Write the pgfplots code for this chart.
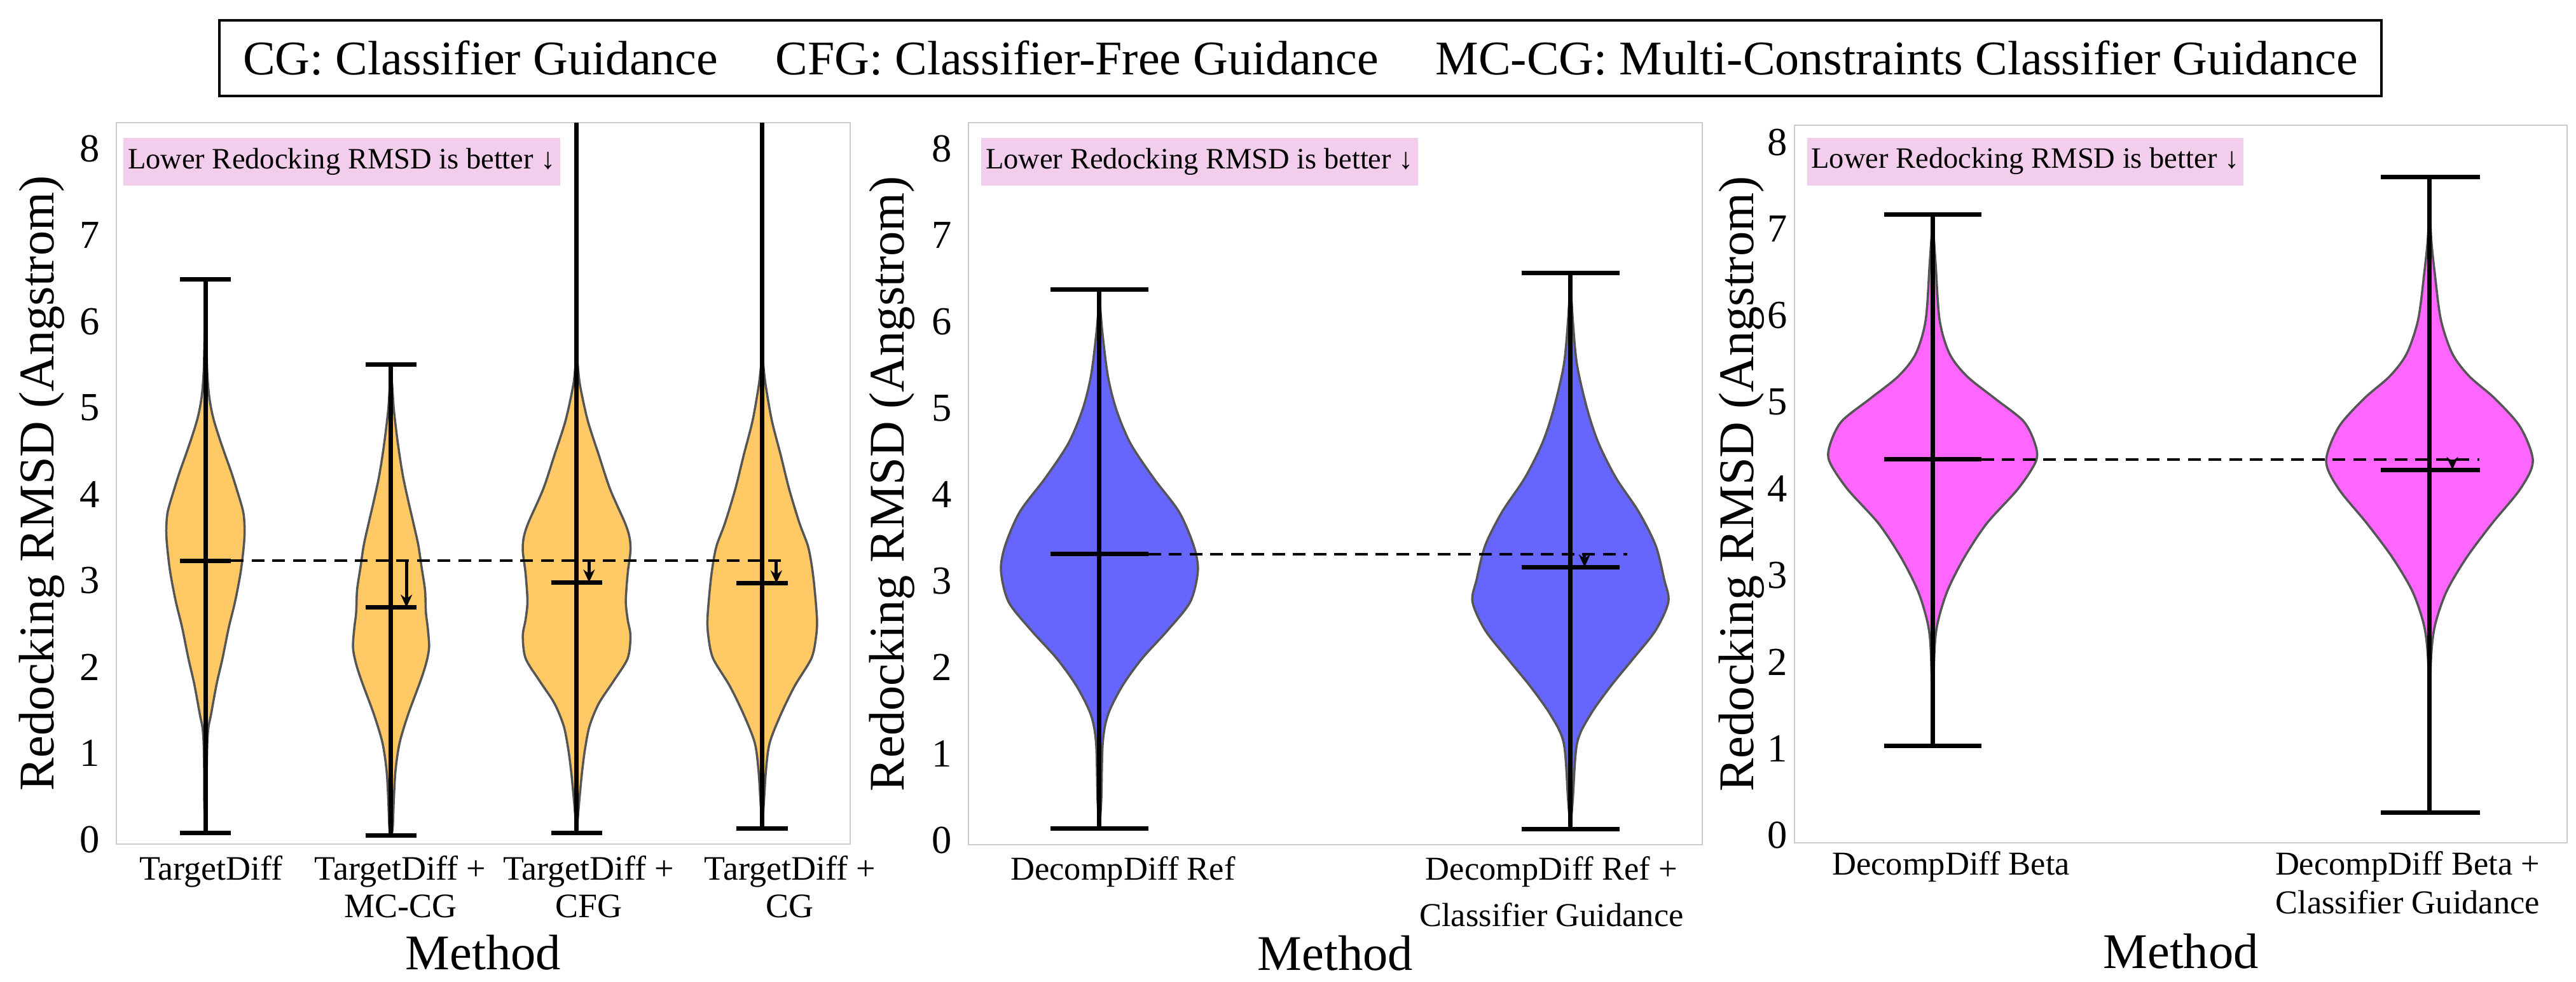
\documentclass[border=0pt]{standalone}
\usepackage{fontspec}
\setmainfont{Liberation Serif}
\usepackage{pgfplots}
\pgfplotsset{compat=1.18}
\usepackage{pgfplotstable}
\usepgfplotslibrary{fillbetween}
\usetikzlibrary{arrows.meta}

\definecolor{orF}{RGB}{255,201,102}
\definecolor{blF}{RGB}{102,102,255}
\definecolor{mgF}{RGB}{255,102,255}
\definecolor{pinkbox}{RGB}{242,205,236}
\definecolor{vline}{RGB}{85,85,85}

% violin half-widths (w, in x units) against RMSD (y)
\pgfplotstableread{
y w
0.08 0.0
0.4 0.006
0.8 0.007
1.12 0.01
1.3 0.016
1.45 0.03
1.8 0.06
2.1 0.092
2.45 0.125
2.76 0.16
3.1 0.19
3.41 0.207
3.6 0.211
3.8 0.203
4.06 0.168
4.25 0.14
4.45 0.107
4.65 0.075
4.85 0.046
5.0 0.03
5.17 0.018
5.4 0.01
5.7 0.006
6.1 0.003
6.45 0.0
}\vA
\pgfplotstableread{
y w
0.03 0.0
0.14 0.009
0.47 0.015
0.8 0.024
1.12 0.046
1.45 0.092
1.84 0.159
2.05 0.19
2.23 0.205
2.45 0.198
2.63 0.188
2.89 0.183
3.15 0.165
3.41 0.147
3.67 0.12
3.93 0.092
4.2 0.065
4.45 0.046
4.7 0.03
4.98 0.015
5.2 0.008
5.45 0.0
}\vB
\pgfplotstableread{
y w
0.08 0.0
0.47 0.015
0.8 0.03
1.06 0.046
1.32 0.07
1.58 0.12
1.84 0.2
2.1 0.275
2.36 0.29
2.55 0.275
2.76 0.265
3.08 0.275
3.34 0.29
3.5 0.285
3.67 0.26
4.06 0.18
4.45 0.12
4.85 0.06
5.24 0.02
5.45 0.008
5.65 0.0
}\vC
\pgfplotstableread{
y w
0.13 0.0
0.47 0.01
0.8 0.02
1.12 0.04
1.45 0.1
1.78 0.175
2.1 0.265
2.35 0.29
2.56 0.295
2.95 0.28
3.2 0.265
3.41 0.245
3.67 0.2
4.06 0.145
4.45 0.1
4.85 0.052
5.24 0.02
5.45 0.008
5.65 0.0
}\vD
\pgfplotstableread{
y w
0.14 0.0
0.47 0.004
1.12 0.007
1.45 0.018
1.78 0.048
2.1 0.09
2.43 0.145
2.76 0.193
3.12 0.209
3.41 0.2
3.8 0.169
4.19 0.115
4.59 0.066
4.98 0.036
5.37 0.018
5.89 0.006
6.3 0.0
}\vE
\pgfplotstableread{
y w
0.13 0.0
0.47 0.005
1.12 0.014
1.45 0.042
1.78 0.085
2.1 0.133
2.43 0.181
2.76 0.208
3.02 0.199
3.41 0.181
3.8 0.145
4.19 0.097
4.59 0.06
4.98 0.036
5.5 0.014
6.02 0.005
6.5 0.0
}\vF
\pgfplotstableread{
y w
1.03 0.0
2.03 0.003
2.42 0.009
2.81 0.029
3.2 0.063
3.6 0.109
4.0 0.172
4.32 0.208
4.52 0.206
4.78 0.183
5.04 0.126
5.3 0.069
5.56 0.034
5.95 0.014
6.6 0.006
7.1 0.0
}\vG
\pgfplotstableread{
y w
0.26 0.0
1.37 0.001
2.03 0.003
2.42 0.011
2.81 0.034
3.2 0.074
3.6 0.126
4.0 0.183
4.32 0.208
4.71 0.183
5.04 0.132
5.3 0.08
5.56 0.046
5.95 0.023
6.47 0.011
6.93 0.003
7.55 0.0
}\vH

\pgfplotsset{
 vp/.style={
   scale only axis, anchor=south west,
   axis line style={draw=black!20, line width=0.5pt},
   ytick={0,1,2,3,4,5,6,7,8},
   tick style={draw=none},
   /pgf/number format/assume math mode=true,
   yticklabel style={font=\fontsize{12.5}{14}\selectfont, inner sep=0pt, xshift=-5pt},
   xticklabel style={align=center, inner sep=0pt, yshift=-3.5pt},
   ylabel={Redocking RMSD (Angstrom)},
   xlabel={Method},
   label style={font=\fontsize{15.7}{18}\selectfont},
   xlabel style={at={(axis description cs:0.5,0)}, anchor=base, yshift=-39.4pt, inner sep=0pt},
   ylabel style={anchor=base, inner sep=0pt},
 },
 vfill/.style={draw=none, smooth},
 vout/.style={draw=vline, line width=0.7pt, smooth},
 whisk/.style={black, line width=1.4pt},
 dsh/.style={black, line width=0.8pt, dash pattern=on 4pt off 2.5pt},
 arr/.style={black, line width=1pt, -{Stealth[length=4pt,width=3.6pt]}},
}
\tikzset{
 note/.style={fill=pinkbox, anchor=north west, inner xsep=1.4pt, inner ysep=3.4pt,
   text height=6.2pt, text depth=2pt, font=\fontsize{9.3}{11}\selectfont},
}

\begin{document}
\begin{tikzpicture}

\node[draw=black, line width=0.8pt, minimum width=680pt, minimum height=23.8pt, inner sep=0pt]
  at (409pt,290.5pt) {\fontsize{15.2}{18}\selectfont CG: Classifier Guidance\hspace{18pt}CFG: Classifier-Free Guidance\hspace{18pt}MC-CG: Multi-Constraints Classifier Guidance};

% ---------------- Panel 1 ----------------
\begin{axis}[vp, at={(36.6pt,43.2pt)}, width=230.8pt, height=227pt,
  xmin=-0.48, xmax=3.474, ymin=-0.05, ymax=8.3,
  xtick={0.03,1.05,2.065,3.15},
  xticklabels={TargetDiff,{TargetDiff +\\MC-CG},{TargetDiff +\\CFG},{TargetDiff +\\CG}},
  xticklabel style={font=\fontsize{10.8}{11.8}\selectfont},
  ylabel style={at={(axis description cs:-0.085,0.5)}}]
\addplot[vfill, name path=a1] table[x expr=0+\thisrow{w}, y=y] {\vA};
\addplot[vfill, name path=b1] table[x expr=0-\thisrow{w}, y=y] {\vA};
\addplot[fill=orF, draw=none] fill between[of=a1 and b1];
\addplot[vout] table[x expr=0+\thisrow{w}, y=y] {\vA};
\addplot[vout] table[x expr=0-\thisrow{w}, y=y] {\vA};
\addplot[vfill, name path=a2] table[x expr=1+\thisrow{w}, y=y] {\vB};
\addplot[vfill, name path=b2] table[x expr=1-\thisrow{w}, y=y] {\vB};
\addplot[fill=orF, draw=none] fill between[of=a2 and b2];
\addplot[vout] table[x expr=1+\thisrow{w}, y=y] {\vB};
\addplot[vout] table[x expr=1-\thisrow{w}, y=y] {\vB};
\addplot[vfill, name path=a3] table[x expr=2+\thisrow{w}, y=y] {\vC};
\addplot[vfill, name path=b3] table[x expr=2-\thisrow{w}, y=y] {\vC};
\addplot[fill=orF, draw=none] fill between[of=a3 and b3];
\addplot[vout] table[x expr=2+\thisrow{w}, y=y] {\vC};
\addplot[vout] table[x expr=2-\thisrow{w}, y=y] {\vC};
\addplot[vfill, name path=a4] table[x expr=3+\thisrow{w}, y=y] {\vD};
\addplot[vfill, name path=b4] table[x expr=3-\thisrow{w}, y=y] {\vD};
\addplot[fill=orF, draw=none] fill between[of=a4 and b4];
\addplot[vout] table[x expr=3+\thisrow{w}, y=y] {\vD};
\addplot[vout] table[x expr=3-\thisrow{w}, y=y] {\vD};
% whiskers
\addplot[whisk] coordinates {(0,0.08) (0,6.49)};
\addplot[whisk] coordinates {(-0.138,0.08) (0.138,0.08)};
\addplot[whisk] coordinates {(-0.138,6.49) (0.138,6.49)};
\addplot[whisk] coordinates {(-0.138,3.23) (0.138,3.23)};
\addplot[whisk] coordinates {(1,0.05) (1,5.5)};
\addplot[whisk] coordinates {(0.862,0.05) (1.138,0.05)};
\addplot[whisk] coordinates {(0.862,5.5) (1.138,5.5)};
\addplot[whisk] coordinates {(0.862,2.69) (1.138,2.69)};
\addplot[whisk] coordinates {(2,0.08) (2,9)};
\addplot[whisk] coordinates {(1.862,0.08) (2.138,0.08)};
\addplot[whisk] coordinates {(1.862,2.98) (2.138,2.98)};
\addplot[whisk] coordinates {(3,0.13) (3,9)};
\addplot[whisk] coordinates {(2.862,0.13) (3.138,0.13)};
\addplot[whisk] coordinates {(2.862,2.97) (3.138,2.97)};
\addplot[dsh] coordinates {(0.138,3.23) (3.125,3.23)};
\addplot[arr] coordinates {(1.083,3.23) (1.083,2.69)};
\addplot[arr] coordinates {(2.067,3.23) (2.067,2.98)};
\addplot[arr] coordinates {(3.076,3.23) (3.076,2.97)};
\node[note, xshift=2pt, yshift=-4.6pt] at (rel axis cs:0,1) {Lower Redocking RMSD is better ↓};
\end{axis}

% ---------------- Panel 2 ----------------
\begin{axis}[vp, at={(304.6pt,43.0pt)}, width=230.8pt, height=227.2pt,
  xmin=-0.278, xmax=1.28, ymin=-0.05, ymax=8.3,
  xtick={0.05,0.96},
  xticklabels={DecompDiff Ref,{DecompDiff Ref +\\Classifier Guidance}},
  xticklabel style={font=\fontsize{10.5}{14.6}\selectfont},
  ylabel style={at={(axis description cs:-0.088,0.5)}}]
\addplot[vfill, name path=a1] table[x expr=0+\thisrow{w}, y=y] {\vE};
\addplot[vfill, name path=b1] table[x expr=0-\thisrow{w}, y=y] {\vE};
\addplot[fill=blF, draw=none] fill between[of=a1 and b1];
\addplot[vout] table[x expr=0+\thisrow{w}, y=y] {\vE};
\addplot[vout] table[x expr=0-\thisrow{w}, y=y] {\vE};
\addplot[vfill, name path=a2] table[x expr=1+\thisrow{w}, y=y] {\vF};
\addplot[vfill, name path=b2] table[x expr=1-\thisrow{w}, y=y] {\vF};
\addplot[fill=blF, draw=none] fill between[of=a2 and b2];
\addplot[vout] table[x expr=1+\thisrow{w}, y=y] {\vF};
\addplot[vout] table[x expr=1-\thisrow{w}, y=y] {\vF};
\addplot[whisk] coordinates {(0,0.14) (0,6.37)};
\addplot[whisk] coordinates {(-0.104,0.14) (0.104,0.14)};
\addplot[whisk] coordinates {(-0.104,6.37) (0.104,6.37)};
\addplot[whisk] coordinates {(-0.104,3.31) (0.104,3.31)};
\addplot[whisk] coordinates {(1,0.13) (1,6.56)};
\addplot[whisk] coordinates {(0.896,0.13) (1.104,0.13)};
\addplot[whisk] coordinates {(0.896,6.56) (1.104,6.56)};
\addplot[whisk] coordinates {(0.896,3.16) (1.104,3.16)};
\addplot[dsh] coordinates {(0.104,3.31) (1.12,3.31)};
\addplot[arr] coordinates {(1.03,3.31) (1.03,3.16)};
\node[note, xshift=3.8pt, yshift=-4.6pt] at (rel axis cs:0,1) {Lower Redocking RMSD is better ↓};
\end{axis}

% ---------------- Panel 3 ----------------
\begin{axis}[vp, at={(564.4pt,43.6pt)}, width=243pt, height=225.8pt,
  xmin=-0.278, xmax=1.277, ymin=-0.09, ymax=8.2,
  xtick={0.037,0.956},
  xticklabels={DecompDiff Beta,{DecompDiff Beta +\\Classifier Guidance}},
  xticklabel style={font=\fontsize{10.5}{12.3}\selectfont, yshift=1pt},
  yticklabel style={xshift=3pt},
  ylabel style={at={(axis description cs:-0.0535,0.5)}}]
\addplot[vfill, name path=a1] table[x expr=0+\thisrow{w}, y=y] {\vG};
\addplot[vfill, name path=b1] table[x expr=0-\thisrow{w}, y=y] {\vG};
\addplot[fill=mgF, draw=none] fill between[of=a1 and b1];
\addplot[vout] table[x expr=0+\thisrow{w}, y=y] {\vG};
\addplot[vout] table[x expr=0-\thisrow{w}, y=y] {\vG};
\addplot[vfill, name path=a2] table[x expr=1+\thisrow{w}, y=y] {\vH};
\addplot[vfill, name path=b2] table[x expr=1-\thisrow{w}, y=y] {\vH};
\addplot[fill=mgF, draw=none] fill between[of=a2 and b2];
\addplot[vout] table[x expr=1+\thisrow{w}, y=y] {\vH};
\addplot[vout] table[x expr=1-\thisrow{w}, y=y] {\vH};
\addplot[whisk] coordinates {(0,1.03) (0,7.17)};
\addplot[whisk] coordinates {(-0.098,1.03) (0.098,1.03)};
\addplot[whisk] coordinates {(-0.098,7.17) (0.098,7.17)};
\addplot[whisk] coordinates {(-0.098,4.34) (0.098,4.34)};
\addplot[whisk] coordinates {(1,0.26) (1,7.6)};
\addplot[whisk] coordinates {(0.902,0.26) (1.102,0.26)};
\addplot[whisk] coordinates {(0.902,7.6) (1.102,7.6)};
\addplot[whisk] coordinates {(0.902,4.22) (1.102,4.22)};
\addplot[dsh] coordinates {(0.098,4.34) (1.1,4.34)};
\addplot[arr] coordinates {(1.046,4.34) (1.046,4.22)};
\node[note, xshift=3.7pt, yshift=-3.8pt] at (rel axis cs:0,1) {Lower Redocking RMSD is better ↓};
\end{axis}

\pgfresetboundingbox
\path (0pt,0pt) rectangle (810.2pt,308.8pt);
\end{tikzpicture}
\end{document}
